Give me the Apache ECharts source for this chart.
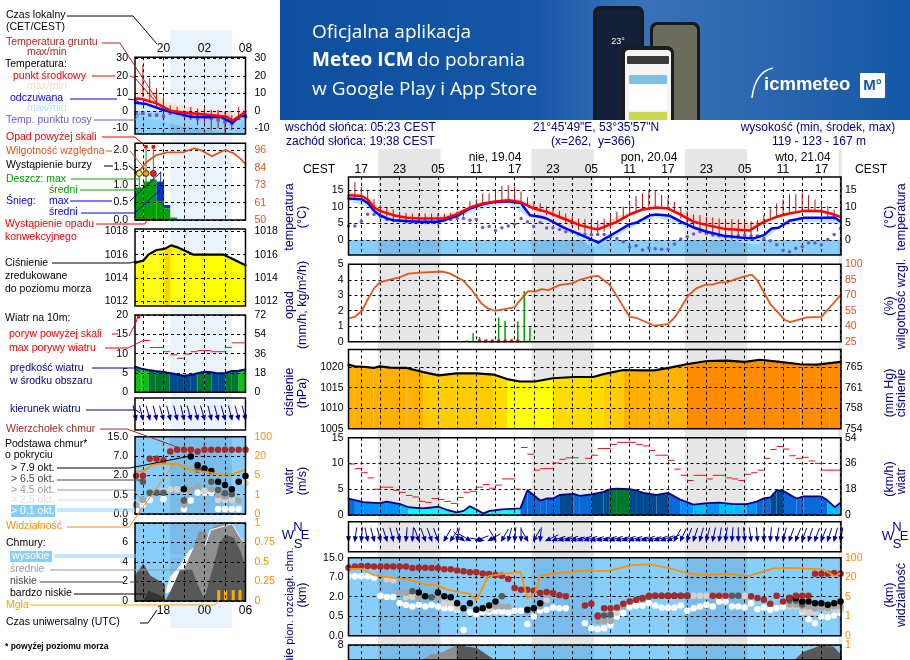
<!DOCTYPE html>
<html>
<head>
<meta charset="utf-8">
<title>meteogram</title>
<script src="https://cdn.jsdelivr.net/npm/echarts@6/dist/echarts.min.js"></script>
<style>
html, body { margin: 0; padding: 0; background: #fff; overflow: hidden; }
#chartMain { width: 910px; height: 660px; }
</style>
</head>
<body>
<div id="chartMain"></div>
<script>
// ---- main meteogram: x is hours since 15:00 local on the first day ----
var mainHours = [];
for (var n = 0; n < 78; n++) { mainHours.push(n); }
var nightStart = [4.63, 28.65, 52.65, 76.7];
var nightEnd = [14.4, 38.4, 62.4, 77.3];
var mainVerticals = [2, 5, 8, 11, 14, 17, 20, 23, 26, 29, 32, 35, 38, 41, 44, 47, 50, 53, 56, 59, 62, 65, 68, 71, 74, 77];
var localTicks = [2, 8, 14, 20, 26, 32, 38, 44, 50, 56, 62, 68, 74];
var localLabels = ['17', '23', '05', '11', '17', '23', '05', '11', '17', '23', '05', '11', '17'];

var tempMid = [[0,13.5],[2.1,13.3],[3.1,12],[4,9.8],[4.9,8.8],[7,7.5],[9.1,6.7],[11,6.5],[14,6.5],[15,6.5],[17,7.8],[19,9.8],[21,11],[23,11.6],[25,12],[26.8,11.5],[27.6,10.8],[29,9.5],[31,8.5],[33.6,6.5],[36.2,4.5],[38.6,3.3],[39.1,3.3],[42,5.5],[44,7.7],[46,9.2],[48.2,9.8],[50,9.5],[52.1,7.5],[54,5.5],[56.1,4.5],[59,3.3],[62.8,2.9],[65,5.5],[67,7],[69,8],[71.3,8.8],[74,8.7],[75.4,8],[77,7]];
var tempFeel = [[0,12.5],[2.1,12.3],[3.1,11],[4,8.8],[4.9,7.5],[6,6.5],[7,6],[11,5.5],[14,5.5],[15,6],[17,7.3],[19,9.5],[21,10.8],[23,11.5],[25,11.7],[27,11.2],[27.6,9.5],[28.4,7.5],[30,7],[31,6.5],[33.6,3.8],[36.2,1.7],[38.6,-0.3],[39.1,-0.8],[39.9,0.2],[42,2.5],[44,4.8],[45,5.2],[47.2,7.5],[48.2,7.7],[50.3,7.3],[52.1,5.5],[54,3.8],[56.1,2.5],[58.7,1.3],[61.3,0.8],[63.4,0.5],[65,1.5],[66.2,3.5],[67.3,3.7],[69,5.8],[71.3,6.7],[74.3,6.7],[76.1,6.8],[77,5.5]];
var tempMidTop = [[0,14.8],[3,13],[5,9.5],[8,7.8],[14,7.2],[20,10.5],[25,12.7],[28,11.5],[32,9],[38,4],[44,8.5],[48,10.6],[52,8.5],[56,6.8],[62,5],[65,6.3],[70,9],[74,9.4],[77,7.5]];
var tempFeelLow = [[0,11.7],[3,10],[5,6.5],[8,5],[14,4.8],[20,8.8],[25,11.2],[28,7],[32,5.5],[38,-2],[40,-1],[44,3.5],[48,7],[52,4.5],[58,0.5],[64,-1.5],[67,3],[70,5.5],[77,5]];
var dewPoint = [4.2,4.2,5.7,7.8,7.7,7,6.2,6,5.8,5.5,5.5,5.5,5.5,5.5,5.5,6,6.2,6.5,6.5,6,6.2,3.8,4.1,2.9,3.7,4.2,4.8,6.5,5.5,4.1,5.3,3.6,3.7,3.2,2.5,2.5,1.8,1.8,1.6,1.7,1.7,1,0.5,-0.5,-2.2,-1.7,-3,-2.3,-2.6,-2.8,-2.8,-1.2,0.3,1,1.8,2.5,2,1.5,1.3,1.1,1.1,1.4,1.5,1.3,1.3,0.3,-0.2,-1.4,-3.1,-3.5,-2.5,-2,-0.9,-0.9,-1.5,0.2,1.7,3.5];
var groundMax = [null,17.4,16.1,14.8,12.4,10.5,9.8,9.2,8.5,8.2,8,8,8,8,8,8,8.2,8.7,9.2,11.7,12.3,14,14,15.1,16.3,16.5,16.1,14.6,12.9,11.5,11,10.2,9.8,8.8,8,7.2,6.5,6.3,6,6,6.5,7.5,8.5,10,11.5,13.3,14.1,14.8,14.8,13.6,12.6,11.5,9.8,8.8,7.7,7.5,7,6.8,6.5,6.5,6.3,6.3,6,5.7,6,7.5,9.5,11,12.2,13.8,13.8,14.3,13.6,12.2,11.5,10.2,9.2,8.5];
var groundMin = [null,12.6,12,10.8,8.8,7.5,7,6.3,6,5.5,5.2,5.2,4.8,5,4.5,5.5,6,6.5,7,9,9.7,11,11,11.5,11.5,11.8,11.8,11,10.2,9.5,8.5,7.5,7,6.7,5,4,3,2.5,2,2.2,2.5,3.5,5,6.5,7.5,8.5,9.5,10,10,9.8,9.5,8,6.5,5,4,3.5,2.5,2,1.5,1,0.2,1,1.5,1,2.5,4.2,6,7,8,8.5,8.5,9,9,8.8,8,7,6,5.5];

var humidity = [[0,47.6],[1,49],[2.1,55],[3.1,67],[4,76.7],[4.9,82.5],[6,84.5],[7.8,87],[9.4,91],[11.2,92],[14.8,93],[15.9,91],[18,84],[19.3,75],[20.8,62],[21.9,57],[22.9,55],[24,56],[26,58.6],[27.1,67],[28.1,74],[29.2,73.5],[30.2,76],[31.3,75],[33.1,80],[35,81.5],[36.2,85],[38,88],[39.1,88.7],[40.9,80],[42.2,67],[44,49],[45.1,48],[47.9,40.5],[50,42],[51.1,49],[53.2,70],[54.5,77],[55.8,80],[57.1,80.6],[58.1,82.5],[59.2,82.5],[61.3,87],[63.1,90],[63.9,85],[66,61.5],[68.3,46],[69.1,44],[71.7,48.6],[74,49],[77,70]];
var rainSpikes = [[18.5,0.1],[19.5,0.54],[20.5,0.3],[23.5,1.57],[24.5,1.33],[26.5,1.3],[27.5,3.27],[28.4,0.93]];
var convective = [20.5,21.5,22.5,23.5,24.5,25.5,26.5];

var pressure = [[0,1020.6],[1,1020.2],[2.3,1020.1],[3.9,1019.8],[4.9,1020.2],[6.5,1019.9],[9.1,1019.8],[11.7,1018.8],[14.1,1018],[16.9,1018.5],[20.1,1018.5],[22.7,1018.2],[24.8,1017.1],[26.8,1016.5],[29.2,1016.5],[32,1017.3],[35.2,1017.6],[38.3,1017.6],[39.9,1018.3],[43,1019.3],[45.6,1019.2],[47.9,1019.2],[50.3,1019.9],[52.9,1020.7],[56.1,1021.5],[59.2,1021.6],[62,1021.3],[64.4,1021.8],[67.5,1021.3],[70.7,1020.7],[73.3,1020.6],[75.3,1021],[77,1021.3]];

var windMean = [[0,3.2],[1,2.9],[2.3,2.5],[4.9,2.3],[6,2.6],[8.1,2.1],[9.4,1.5],[11.7,1.3],[14.1,1.6],[15.4,1],[16.9,0.5],[18,0.8],[19,1.7],[20.1,1],[21.1,0.3],[22.1,0.8],[24,1.1],[26.9,1.3],[28,4.8],[30,2.8],[31,3.2],[32,3.2],[33.1,3.9],[35.2,4.1],[36.2,3.7],[38,4],[39.9,4.5],[40.9,5],[42,5.1],[44,5],[45,4.8],[46.1,4.3],[48.2,3.9],[50,4.3],[51.9,3],[54,2],[56.1,2.3],[58.1,2.4],[60.2,2.1],[62.3,2.1],[63.9,2.6],[64.9,3.2],[66,3.4],[67,4.8],[68,4.7],[70.1,3.2],[71.2,3.6],[74,3.6],[74.9,2.9],[76.1,1.5],[77,2.4]];
var windGust = [9.9,9,8.2,7.2,5,5.4,5.4,4.8,4.4,3.8,3.5,2.65,2.45,3.2,3,2.65,2.25,3.4,4.4,4.6,5.4,5.9,5.2,5.8,7,7,5,13.1,11.8,8.7,9,9,10.1,10.8,11.1,11.1,10,11,11.6,12.9,12.9,13.7,14.1,14.1,14.1,13.7,13.4,12.5,11.6,11.6,10.6,8.9,7.7,6.7,7.7,7.7,7,7.7,7.7,7.2,7,6.7,7.9,8.2,8.7,11,12.7,13.3,12.8,11.5,11,11.2,10.5,10,8.7,8.7,8.7];
var windDirTail = [0,8,5,-12,-15,-15,-18,-15,-15,5,5,-20,-20,-20,-20,30,35,10,-50,-60,70,-80,60,-30,30,15,5,0,-30,30,5,65,72,74,72,75,73,72,74,75,73,72,74,72,73,75,72,74,72,70,65,30,25,20,18,15,15,12,10,8,5,0,-5,-8,-5,0,5,10,15,20,22,20,18,20,22,18,15,10];

// cloud base panel: values are positions on its five-step tick scale (0 = 0 km ... 4 = 15 km)
var baseTickPos = [0, 1, 2, 3, 4];
var baseLabels = ['0.0', '0.5', '2.0', '7.0', '15.0'];
var visLabels = ['0', '1', '5', '20', '100'];
var cloudTop = [3.48,3.55,3.57,3.57,3.55,3.55,3.55,3.55,3.55,3.55,3.47,3.48,3.48,3.47,3.47,3.41,3.41,3.34,3.31,3.26,3.26,3.19,3.17,3.12,3.07,2.91,2.45,2.36,2.36,2.31,2.19,2.24,2.19,2.07,2.02,null,null,1.55,1.64,1.03,1.41,1.41,1.45,1.64,1.76,1.84,1.93,2.05,2.05,2.05,2.05,2.05,2.05,2.05,null,null,null,2.05,2.05,2.05,null,null,null,2.02,1.93,1.84,1.64,2.05,1.76,1.93,2.05,2.05,2.05,3.18,3.18,3.18,3.22,3.18];
var cloudWhite = [3.05,3.05,3.05,3.05,2.97,2.05,1.98,1.98,1.67,1.57,1.5,1.59,1.5,1.57,1.5,1.41,1.41,1.33,0.29,1.2,1.1,1.21,1.21,1.24,1.24,1.19,1.28,1.28,0.6,0.98,1.29,1.33,1.45,1.41,1.41,null,null,0.64,0.38,0.33,0.38,0.55,0.98,1.16,1.47,1.53,1.53,1.67,1.55,1.43,1.43,1.43,1.55,1.28,1.41,1.5,1.59,1.5,1.76,1.76,1.5,1.5,1.45,1.67,1.36,1.45,1.33,1.41,1.47,1.67,1.76,1.24,0.84,0.64,0.98,0.95,1.03,1.16];
var cloudLight = [[6,2.9],[7,2.85],[9,1.97],[10,2],[15,1.67],[16,1.67],[17,1.41],[22,1.33],[31,1.84],[42,1.16],[45,1.84],[54,2.05],[55,2.05],[56,2.05],[59,2.05],[62,2.05],[69,1.5],[70,1.5],[71,1.3],[72,1.2],[73,1.2],[75,1.3],[76,1.4],[77,1.3]];
var cloudGrey = [[8,2.2],[9,2.2],[11,1.93],[14,1.93],[23,1.5],[24,1.5],[25,1.5],[28,1.2],[30,1.5],[31,2.1],[39,0.75],[40,0.75],[41,0.75],[43,1.5],[44,1.76],[69,1.6],[70,1.6],[71,1.5],[72,1.5],[73,1.4],[74,1.45],[75,1.4],[76,1.5],[77,1.5]];
var cloudDark = [[10,2.28],[13,1.97],[24,2.02],[39,0.98],[40,1.03],[41,1.07],[46,1.9],[47,2],[48,2.05],[49,2.05],[52,2.05],[60,2.05],[61,2.05],[69,1.8],[70,1.8],[71,1.6]];
var cloudBlack = [[11,2.22],[12,2.02],[14,2.22],[15,2.02],[16,1.97],[17,1.67],[18,1.41],[19,1.67],[20,1.33],[21,1.41],[22,1.55],[23,1.76],[28,1.33],[29,1.41],[30,1.67],[50,2.05],[51,2.05],[53,2.05],[69,1.93],[70,1.93],[71,1.76],[72,1.76],[73,1.67],[74,1.67],[75,1.59],[76,1.67],[77,1.76]];
var visibility = [[0,3.43],[2.1,3.43],[4.1,3.09],[7,2.97],[9.1,2.91],[12.2,2.62],[14.1,2.57],[15.4,2.36],[17.4,2.24],[19,2.14],[20,1.81],[21.9,3.05],[23.7,3.14],[26.9,3.28],[28,1.93],[29.2,2.19],[30,3.05],[32,3.19],[35.2,3.28],[37.3,3.34],[39.3,3.31],[40.9,3.34],[44.3,3.62],[47.2,3.66],[50,3.48],[53.2,3.19],[55.5,3.1],[59.2,3.17],[62.6,3.05],[66.5,3.45],[69.1,3.48],[74.3,3.4],[76.1,3.05],[77,3.22]];
var mainCloudMid = [[11.7,0],[11.7,0.81],[12.8,0.87],[14.8,0.91],[16.9,1],[17,0]];
var mainCloudLow = [[16.9,0],[16.9,1],[20.1,0.96],[22.7,0.81],[22.7,0]];
var mainCloudLowEnd = [[69.9,0],[69.9,0.81],[71.2,0.91],[73.8,0.99],[75.9,0.98],[77.1,0.87],[77.1,0]];

// ---- legend meteogram on the left: x is local hours, 24 = midnight ----
var legendHours = [16,17,18,19,20,21,22,23,24,25,26,27,28,29,30,31,32];
var legendVerticals = [17, 20, 23, 26, 29, 32];
var legendTopLabels = ['20', '02', '08'];
var legendBottomLabels = ['18', '00', '06'];
var legendLabelTicks = [20, 26, 32];
var legendTempMid = [[15.85,7.2],[16.83,6.9],[19,4.4],[21,0.2],[22.9,-0.8],[25.4,-1.7],[27.8,-2.7],[29.3,-3.2],[30.1,-5.5],[31,-3.2],[32,-0.4]];
var legendTempFeel = [[15.85,4.8],[17.56,4],[20,0.6],[22,-1.3],[23.9,-3.2],[26.3,-3.6],[28.3,-3.2],[30.1,-6.7],[31.2,-2.9],[32,-2.7]];
var legendTempTop = [[15.85,13.5],[17.6,12],[19,9.1],[21,4.4],[23.4,2.5],[26.3,1.5],[29.8,-0.4],[32,1.5]];
var legendFeelLow = [[15.85,-2],[17,-3],[20,-6],[23,-9],[27,-11],[30,-12.5],[32,-4]];
var legendDew = [-1.3,-1.3,-2.3,-2.3,-2.9,-1,-1.3,-2.3,-3.2,-4.2,-3.2,-4.2,-5.1,-6.2,-7.1,-4.2,-3.2];
var legendGroundHours = [17,18,19,20,21,22,23,24,25,26,27,28,29,30,31];
var legendGroundMax = [26.3,18.7,13,8.2,3.4,2.5,0.6,2.5,1.5,1.5,0.6,0.6,-0.4,-2.3,2.5];
var legendGroundMin = [8.2,4.4,2.5,1.5,-2.3,-2.3,-3.2,-5.1,-8,-7,-11,-10,-12.8,-11,-5.1];
var legendHumidity = [[15.85,80.7],[16.83,84],[17.56,88.3],[19,92.7],[20.5,94.5],[22.9,94.5],[24.4,97],[25.4,96],[27.1,92],[29,96],[30.2,94],[31.2,90.5],[32,86.8]];
var legendRainEdges = [15.85,17.07,18.05,19,20.1,21,22];
var legendRainMean = [0.93,1.1,1.16,0.52,0.33,0.07];
var legendSnowTop = [0.93,1.1,1.16,1.1,0.43,0.07];
var legendRainMaxHours = [16.48,17.46,18.53];
var legendRainMaxTop = [1.33,2.05,2.05];
var legendSnowMax = [[19.6,1.1,1.38]];
var legendOverScale = [[17.46,2.09],[18.53,2.09]];
var legendGustOver = [[16.4,19.5]];
var legendThunder = [[16.48,1.33],[17.46,1.33],[18.53,1.33]];
var legendConvective = [16.5,17.5,18.5,19.5];
var legendPressure = [[15.85,1015.3],[17.07,1015.5],[17.8,1016],[19,1016.4],[20.2,1016.5],[21.1,1016.8],[22.2,1016.6],[24.4,1016],[28.8,1016],[30.2,1015.6],[32,1015.1]];
var legendWind = [[15.85,6.6],[16.8,6.1],[17.8,5.75],[18.8,5.5],[19.8,5.35],[20.9,5],[22,4.6],[23,4.3],[24,4.5],[24.9,4.9],[25,5.2],[26,5.3],[27,5.2],[27.1,4.9],[28,4.9],[29,4.95],[29.1,5.3],[30,5.5],[31,5.6],[31.2,5.85],[32,5.9]];
var legendGustHours = [17,18,19,20,21,22,23,24,25,26,27,28,29,30,31];
var legendGust = [13.4,11.6,11.6,10.5,9.7,8.8,9.9,10.5,10.8,10.8,10.5,10.5,11.6,12.8,12.8];
var legendDirTail = [-12,-14,-15,-14,-16,-15,-14,-13,-15,-14,-16,-14,-15,-16,-14,-15,-14];
var legendTop = [[16,1.98],[17,1.98],[18,2.86],[19,2.86],[20,2.78],[21,3.24],[22,3.32],[23,3.32],[24,3.32],[25,3.24],[26,3.32],[27,3.32],[28,3.32],[29,3.32],[30,3.32],[31,3.32],[32,3.32]];
var legendBlack = [[24,2.98],[25,2.52],[26,2.35],[27,2.23],[23,1.28],[28,1.67],[29,1.5],[30,1.28],[31,1.67],[32,1.96]];
var legendDark = [[17,1.67],[18,1.1],[19,1.1],[20,1.1],[23,0.7],[27,1.67],[25,2.3],[28,1.24],[29,1.07],[30,1.02]];
var legendGrey = [[16,0.48],[17,0.73],[23,0.48],[24,1.24],[25,1.46],[27,1.28],[28,1],[29,0.9],[31,0.7]];
var legendLight = [[20,1.2],[21,1.28],[22,1.28],[23,1.2],[26,1.2],[28,0.73],[29,0.73],[30,0.73],[32,1.6]];
var legendWhite = [[16,0.2],[17,0.48],[18,0.73],[20,0.78],[23,0.26],[24,0.7],[25,1.1],[26,1.1],[27,1.1],[28,0.26],[29,0.26],[30,0.26],[31,0.26]];
var legendVis = [[15.85,2.21],[17.07,2.21],[18.53,2.57],[20,2.6],[22,2.6],[23.4,2.35],[24.9,2.23],[26.3,2.18],[28.3,2.04],[30.2,2.06],[32,2.3]];
var cloudHigh = [[20.25,0.1],[21,0.31],[22.46,0.46],[23.7,0.64],[24.66,0.7],[24.4,0.4],[22.46,0.4],[21,0.12]];
var cloudMedium = [[23.44,0],[22.95,0.4],[24.4,0.68],[25.15,0.89],[26.13,0.89],[26.62,0.81],[27.35,0.96],[30.04,1],[32,0.72],[32,0]];
var cloudLowHill1 = [[15.85,0],[15.85,0.33],[17.07,0.48],[18.05,0.33],[20.25,0.21],[20.25,0]];
var cloudLowHill2 = [[20.25,0],[21,0.12],[22.46,0.4],[24.17,0.4],[24.9,0.23],[26.13,0]];
var cloudLowHill3 = [[25.88,0],[27.35,0.46],[28.09,0.72],[29.07,0.85],[30.29,0.81],[31.27,0.64],[32,0.44],[32,0]];
var cloudVeryLow = [[17.07,0],[17.8,0.13],[19.3,0.08],[20.25,0.03],[20.25,0]];
var cloudEdge = [[26.13,0.72],[26.86,0.91],[30.04,0.99],[31.27,0.81],[32,0.72]];
var fogHours = [28.09,29.07,30.2,31.2];
var fogTop = 0.14;

// ---- helpers ----
var FONT = '"Liberation Sans", Arial, sans-serif';
var option = { animation: false, grid: [], xAxis: [], yAxis: [], series: [], graphic: [] };

function dashed() {
    return { show: true, lineStyle: { color: '#000', width: 1, type: [3, 3] } };
}
function pairs(xs, ys) {
    var out = [];
    for (var i = 0; i < ys.length; i++) {
        if (ys[i] !== null) { out.push([xs[i], ys[i]]); }
    }
    return out;
}
// one framed panel with a shared time axis, a left value axis and optional right value axis
function panel(c) {
    var idx = option.grid.length;
    option.grid.push({
        show: !c.noFrame, left: c.left, top: c.top, width: c.width, height: c.height,
        borderColor: '#000', borderWidth: 1.5, backgroundColor: 'transparent', z: 8
    });
    var xLabel = c.timeTicks ? {
        show: true, customValues: c.timeTicks, margin: c.timeMargin, fontSize: 12, color: '#000', fontFamily: FONT,
        formatter: function(v) { return c.timeLabels[c.timeTicks.indexOf(v)]; }
    } : { show: false };
    option.xAxis.push({
        type: 'value', gridIndex: idx, min: c.xMin, max: c.xMax, z: 4, position: c.timePos || 'bottom',
        axisLine: { show: false }, axisTick: { show: false, customValues: c.verticals || [] },
        axisLabel: xLabel, splitLine: c.verticals ? dashed() : { show: false }
    });
    var yi = option.yAxis.length;
    function yLabelCfg(ticks, labels, color, margin) {
        if (!ticks) { return { show: false }; }
        return {
            show: true, customValues: ticks, fontSize: 10.5, color: color || '#000', margin: margin, fontFamily: FONT,
            formatter: function(v) { return labels ? labels[ticks.indexOf(v)] : String(Math.round(v)); }
        };
    }
    option.yAxis.push({
        type: 'value', gridIndex: idx, min: c.yMin, max: c.yMax, position: 'left', z: 4,
        axisLine: { show: false }, axisTick: { show: false, customValues: c.yTicks || [] },
        axisLabel: yLabelCfg(c.yTicks, c.yLabels, '#000', c.lm),
        splitLine: c.yTicks ? dashed() : { show: false }
    });
    option.yAxis.push({
        type: 'value', gridIndex: idx, min: c.y2Min, max: c.y2Max, position: 'right', z: 4,
        axisLine: { show: false }, axisTick: { show: false, customValues: c.y2Ticks || [] },
        axisLabel: yLabelCfg(c.y2Ticks, c.y2Labels, c.y2Color, c.rm),
        splitLine: { show: false }
    });
    return { x: idx, y: yi, y2: yi + 1, xMin: c.xMin, xMax: c.xMax, yMin: c.yMin, yMax: c.yMax };
}
function base(p, useY2, z) {
    return { xAxisIndex: p.x, yAxisIndex: useY2 ? p.y2 : p.y, z: z, silent: true };
}
function addLine(p, data, color, width, z, useY2) {
    var s = base(p, useY2, z);
    s.type = 'line'; s.data = data; s.showSymbol = false; s.clip = true;
    s.lineStyle = { color: color, width: width, cap: 'round', join: 'round' };
    option.series.push(s);
}
function addDots(p, data, color, size, z, symbol, clip) {
    var s = base(p, false, z);
    s.type = 'scatter'; s.data = data; s.symbol = symbol || 'circle'; s.symbolSize = size;
    s.itemStyle = { color: color, opacity: 1 }; s.clip = clip !== false;
    option.series.push(s);
}
function addPoly(p, pts, fill, z, useY2) {
    var s = base(p, useY2, z);
    s.type = 'custom'; s.clip = true; s.data = [pts[0]];
    s.renderItem = function(params, api) {
        return { type: 'polygon', shape: { points: pts.map(function(v) { return api.coord(v); }) }, style: { fill: fill } };
    };
    option.series.push(s);
}
function addBand(p, pts, lower, fill, z) {
    addPoly(p, pts.concat(lower.slice().reverse()), fill, z);
}
function addPolyline(p, pts, color, width, z) { addLine(p, pts, color, width, z); }
// thin vertical sticks, rows are [x, low, high]
function addSticks(p, rows, color, width, z, useY2) {
    var s = base(p, useY2, z);
    s.type = 'custom'; s.clip = true; s.data = rows;
    s.renderItem = function(params, api) {
        var a = api.coord([api.value(0), api.value(1)]);
        var b = api.coord([api.value(0), api.value(2)]);
        return { type: 'rect', shape: { x: a[0] - width / 2, y: b[1], width: width, height: a[1] - b[1] }, style: { fill: color } };
    };
    option.series.push(s);
}
// hourly step dashes for the gusts
function addDashes(p, hours, values, z) {
    var s = base(p, false, z);
    s.type = 'custom'; s.clip = true; s.data = pairs(hours, values);
    s.renderItem = function(params, api) {
        var a = api.coord([api.value(0), api.value(1)]);
        var b = api.coord([api.value(0) + 1, api.value(1)]);
        return { type: 'line', shape: { x1: a[0], y1: a[1], x2: b[0], y2: b[1] }, style: { stroke: '#f01010', lineWidth: 1 } };
    };
    option.series.push(s);
}
function addArrows(p, hours, tail, anchor, len, z) {
    var s = base(p, false, z);
    s.type = 'custom'; s.clip = false;
    s.data = hours.map(function(h, i) { return [h, anchor, tail[i]]; });
    s.renderItem = function(params, api) {
        var head = api.coord([api.value(0), api.value(1)]);
        var a = api.value(2) * Math.PI / 180;
        var dx = Math.sin(a), dy = -Math.cos(a);
        var px = -dy, py = dx;
        return {
            type: 'group', children: [
                { type: 'line', shape: { x1: head[0], y1: head[1], x2: head[0] + dx * len, y2: head[1] + dy * len }, style: { stroke: '#0000a0', lineWidth: 1 } },
                { type: 'polygon', shape: { points: [
                    [head[0] - dx * 2, head[1] - dy * 2],
                    [head[0] + dx * 4 + px * 2.6, head[1] + dy * 4 + py * 2.6],
                    [head[0] + dx * 4 - px * 2.6, head[1] + dy * 4 - py * 2.6]
                ] }, style: { fill: '#0000a0' } }
            ]
        };
    };
    option.series.push(s);
}
function rectPts(x0, x1, lo, hi) { return [[x0, lo], [x1, lo], [x1, hi], [x0, hi]]; }
function pressureColor(v) {
    if (v >= 1020.6) { return '#ff8c00'; }
    if (v >= 1019) { return '#ffb000'; }
    if (v >= 1018) { return '#ffcc00'; }
    if (v >= 1017) { return '#ffdc00'; }
    return '#ffff00';
}
function windColor(v) {
    if (v >= 5.7) { return '#10c010'; }
    if (v >= 5) { return '#007a2a'; }
    if (v >= 4) { return '#004a8f'; }
    if (v >= 2.75) { return '#0a68d8'; }
    if (v >= 2.3) { return '#0090ff'; }
    if (v >= 1.5) { return '#00bfff'; }
    if (v >= 1) { return '#00ffff'; }
    return '#40e0d0';
}
// column fill under a profile, each knot span coloured by its mean value
function addColumns(p, knots, floor, colorFn, z) {
    for (var i = 0; i < knots.length - 1; i++) {
        var a = knots[i], b = knots[i + 1];
        addPoly(p, [[a[0], floor], [a[0], a[1]], [b[0], b[1]], [b[0], floor]], colorFn((a[1] + b[1]) / 2), z);
    }
}

// ---- background stripes behind the two meteograms ----
var stripeGrid = panel({ left: 348.5, top: 149, width: 492.5, height: 511, xMin: 0, xMax: 77.07, yMin: 0, yMax: 1, noFrame: true });
nightStart.forEach(function(h, i) { addPoly(stripeGrid, rectPts(h, nightEnd[i], 0, 1), '#e6e6e6', 0); });
var legendStripe = panel({ left: 135, top: 30, width: 110.5, height: 598, xMin: 15.85, xMax: 32, yMin: 0, yMax: 1, noFrame: true });
addPoly(legendStripe, rectPts(21, 30, 0, 1), '#eaf2fc', 0);

// ---- main panels ----
var mainBox = { left: 348.5, width: 492.5, xMin: 0, xMax: 77.07, verticals: mainVerticals, lm: 5, rm: 4, timeMargin: 1 };
function mainPanel(extra) { return panel(Object.assign({}, mainBox, extra)); }

function nightOverlay(p, lo, hi, z) {
    nightStart.forEach(function(h, i) { addPoly(p, rectPts(h, nightEnd[i], lo, hi), 'rgba(0,30,90,0.1)', z); });
}

var pTemp = mainPanel({ top: 177, height: 78, yMin: -4.5, yMax: 19, yTicks: [0, 5, 10, 15], y2Min: -4.5, y2Max: 19, y2Ticks: [0, 5, 10, 15], timeTicks: localTicks, timeLabels: localLabels, timePos: 'top' });
addPoly(pTemp, rectPts(0, 77.07, -4.5, 0), '#87cefa', 2);
nightOverlay(pTemp, -4.5, 0, 3);
addBand(pTemp, tempMidTop, tempMid, '#ffd6d0', 2);
addBand(pTemp, tempFeel, tempFeelLow, 'rgba(175,225,255,0.8)', 3);
addSticks(pTemp, mainHours.map(function(h, i) { return groundMax[i] === null ? [h, 0, 0] : [h, groundMin[i], groundMax[i]]; }), '#a01818', 1, 5);
addDots(pTemp, pairs(mainHours, dewPoint), '#6a5acd', 3.5, 5);
addLine(pTemp, tempFeel, '#0000ff', 2.5, 6);
addLine(pTemp, tempMid, '#ff0000', 2.5, 7);

var pRain = mainPanel({ top: 264.3, height: 77.4, yMin: 0, yMax: 5, yTicks: [0, 1, 2, 3, 4, 5], y2Min: 25, y2Max: 100, y2Ticks: [25, 40, 55, 70, 85, 100], y2Color: '#e0501a' });
addSticks(pRain, rainSpikes.map(function(r) { return [r[0], 0, r[1]]; }), '#00a000', 1.5, 5);
addSticks(pRain, [[28, 0, 0.06]], '#00a000', 7, 5);
addDots(pRain, convective.map(function(h) { return [h, 0.05]; }), '#e01010', 3, 6, 'rect', false);
addLine(pRain, humidity, '#e0561e', 1.8, 7, true);

var pPres = mainPanel({ top: 349.5, height: 79.2, yMin: 1005, yMax: 1024.3, yTicks: [1005, 1010, 1015, 1020], y2Min: 753.8, y2Max: 768.3, y2Ticks: [753.8, 757.5, 761.3, 765] });
addColumns(pPres, pressure, 1005, pressureColor, 2);
addLine(pPres, pressure, '#000', 2.2, 6);

var pWind = mainPanel({ top: 437.7, height: 77.3, yMin: 0, yMax: 15, yTicks: [0, 5, 10, 15], y2Min: 0, y2Max: 54, y2Ticks: [0, 18, 36, 54] });
addColumns(pWind, windMean, 0, windColor, 2);
addDashes(pWind, mainHours.slice(0, windGust.length), windGust, 5);
addLine(pWind, windMean, '#00008b', 1.8, 6);

var pDir = mainPanel({ top: 521.7, height: 30, yMin: 0, yMax: 1 });
addArrows(pDir, mainHours, windDirTail, 0.38, 13, 6);

var pBase = mainPanel({ top: 557.7, height: 78, yMin: 0, yMax: 4, yTicks: baseTickPos, yLabels: baseLabels, y2Min: 0, y2Max: 4, y2Ticks: baseTickPos, y2Labels: visLabels, y2Color: '#ff8c00' });
addPoly(pBase, rectPts(0, 77.07, 0, 4), '#87cefa', 2);
nightOverlay(pBase, 0, 4, 3);
addDots(pBase, pairs(mainHours, cloudWhite), '#fff', 6.5, 5);
addDots(pBase, cloudLight, '#d8d2ca', 6.5, 5);
addDots(pBase, cloudGrey, '#a6a6a6', 6.5, 5);
addDots(pBase, cloudDark, '#5a5a5a', 6.5, 5);
addDots(pBase, cloudBlack, '#000', 6.5, 5);
addDots(pBase, pairs(mainHours, cloudTop), '#a52a2a', 6.5, 5);
addLine(pBase, visibility, '#ff9000', 1.8, 6);

// the page ends at 660, so only the top slice of this 78 px tall panel is on screen
var cloudSliceMin = 1 - 15.5 / 78;
var pCloud = mainPanel({ top: 645, height: 15.5, yMin: cloudSliceMin, yMax: 1, yTicks: [1], yLabels: ['8'], y2Min: cloudSliceMin, y2Max: 1, y2Ticks: [1], y2Labels: ['1'], y2Color: '#ff8c00' });
addPoly(pCloud, rectPts(0, 77.07, cloudSliceMin, 1), '#87cefa', 2);
nightOverlay(pCloud, cloudSliceMin, 1, 3);
addPoly(pCloud, mainCloudMid, '#8f8f8f', 3);
addPoly(pCloud, mainCloudLow, '#585858', 3);
addPoly(pCloud, mainCloudLowEnd, '#585858', 3);

// ---- legend panels ----
var legendBox = { left: 135, width: 110.5, xMin: 15.85, xMax: 32, verticals: legendVerticals, lm: 7, rm: 9, timeMargin: 3 };
function legendPanel(extra) { return panel(Object.assign({}, legendBox, extra)); }

var lTemp = legendPanel({ top: 57.3, height: 76.7, yMin: -13.1, yMax: 30.7, yTicks: [-10, 0, 10, 20, 30], y2Min: -13.1, y2Max: 30.7, y2Ticks: [-10, 0, 10, 20, 30], timeTicks: legendLabelTicks, timeLabels: legendTopLabels, timePos: 'top' });
addPoly(lTemp, rectPts(15.85, 32, -13.1, 0), '#87cefa', 2);
addPoly(lTemp, rectPts(21, 30, -13.1, 0), 'rgba(0,30,90,0.1)', 3);
addBand(lTemp, legendTempTop, legendTempMid, '#ffe4d8', 2);
addBand(lTemp, legendTempFeel, legendFeelLow, 'rgba(175,225,255,0.55)', 3);
addSticks(lTemp, legendGroundHours.map(function(h, i) { return [h, legendGroundMin[i], legendGroundMax[i]]; }), '#a01818', 1, 5);
addDots(lTemp, pairs(legendHours, legendDew), '#6a5acd', 3.5, 5, 'rect');
addLine(lTemp, legendTempFeel, '#0000ff', 2.5, 6);
addLine(lTemp, legendTempMid, '#ff0000', 2.5, 7);

var lRain = legendPanel({ top: 143.3, height: 76.7, yMin: 0, yMax: 2.19, yTicks: [0, 0.5, 1, 1.5, 2], yLabels: ['0.0', '0.5', '1.0', '1.5', '2.0'], y2Min: 50, y2Max: 100.4, y2Ticks: [50, 61, 73, 84, 96], y2Color: '#e0501a' });
legendRainMean.forEach(function(v, i) {
    addPoly(lRain, rectPts(legendRainEdges[i], legendRainEdges[i + 1], v, legendSnowTop[i]), '#1030c0', 3);
    addPoly(lRain, rectPts(legendRainEdges[i], legendRainEdges[i + 1], 0, v), '#00a000', 3);
});
addSticks(lRain, legendRainMaxHours.map(function(h, i) { return [h, 0.9, legendRainMaxTop[i]]; }), '#00a000', 1, 5);
addSticks(lRain, legendSnowMax, '#1030c0', 1, 5);
addDots(lRain, legendOverScale, '#f00000', 3.5, 6, 'rect', false);
addDots(lRain, legendConvective.map(function(h) { return [h, 0.02]; }), '#e01010', 2.5, 6, 'rect', false);
addLine(lRain, legendHumidity, '#e0561e', 1.8, 7, true);
['#ffe040', '#ff9900', '#ff2000'].forEach(function(col, i) {
    var s = base(lRain, false, 8);
    s.type = 'scatter'; s.data = [legendThunder[i]]; s.symbolSize = 6;
    s.itemStyle = { color: col, borderColor: '#000', borderWidth: 0.7, opacity: 1 };
    option.series.push(s);
});

var lPres = legendPanel({ top: 229, height: 77, yMin: 1011.6, yMax: 1018.2, yTicks: [1012, 1014, 1016, 1018], y2Min: 1011.6, y2Max: 1018.2, y2Ticks: [1012, 1014, 1016, 1018] });
addColumns(lPres, legendPressure, 1011.6, function() { return '#ffff00'; }, 2);
addPoly(lPres, [[20.2, 1011.6], [20.2, 1016.5], [21, 1016.75], [21, 1011.6]], '#ffd200', 3);
addLine(lPres, legendPressure, '#000', 2.2, 6);

var lWind = legendPanel({ top: 315, height: 77.3, yMin: 0, yMax: 20, yTicks: [0, 5, 10, 15, 20], y2Min: 0, y2Max: 72, y2Ticks: [0, 18, 36, 54, 72] });
addColumns(lWind, legendWind, 0, windColor, 2);
addDashes(lWind, legendGustHours, legendGust, 5);
addDots(lWind, legendGustOver, '#f00000', 3, 6, 'rect', false);
addLine(lWind, legendWind, '#00008b', 2, 6);

var lDir = legendPanel({ top: 398, height: 32, yMin: 0, yMax: 1 });
addArrows(lDir, legendHours, legendDirTail, 0.34, 14, 6);

var lBase = legendPanel({ top: 436.7, height: 77.3, yMin: 0, yMax: 4, yTicks: baseTickPos, yLabels: baseLabels, y2Min: 0, y2Max: 4, y2Ticks: baseTickPos, y2Labels: visLabels, y2Color: '#ff8c00' });
addPoly(lBase, rectPts(15.85, 32, 0, 4), '#87cefa', 2);
addPoly(lBase, rectPts(21, 30, 0, 4), 'rgba(0,30,90,0.1)', 3);
addDots(lBase, legendWhite, '#fff', 6.5, 5);
addDots(lBase, legendLight, '#d8d2ca', 6.5, 5);
addDots(lBase, legendGrey, '#a6a6a6', 6.5, 5);
addDots(lBase, legendDark, '#5a5a5a', 6.5, 5);
addDots(lBase, legendBlack, '#000', 6.5, 5);
addDots(lBase, legendTop, '#a52a2a', 6.5, 5);
addLine(lBase, legendVis, '#ff9000', 1.8, 6);

var lCloud = legendPanel({ top: 523, height: 78, yMin: 0, yMax: 1, yTicks: [0, 0.25, 0.5, 0.75, 1], yLabels: ['0', '2', '4', '6', '8'], y2Min: 0, y2Max: 1, y2Ticks: [0, 0.25, 0.5, 0.75, 1], y2Labels: ['0', '0.25', '0.5', '0.75', '1'], y2Color: '#ff8c00', timeTicks: legendLabelTicks, timeLabels: legendBottomLabels, timeMargin: 4 });
addPoly(lCloud, rectPts(15.85, 32, 0, 1), '#87cefa', 2);
addPoly(lCloud, rectPts(21, 30, 0, 1), 'rgba(0,30,90,0.1)', 2);
addPoly(lCloud, cloudHigh, '#fff', 3);
addPoly(lCloud, cloudMedium, '#8f8f8f', 3);
addPoly(lCloud, cloudLowHill1, '#585858', 3);
addPoly(lCloud, cloudLowHill2, '#585858', 3);
addPoly(lCloud, cloudLowHill3, '#585858', 3);
addPoly(lCloud, cloudVeryLow, '#333', 3);
addPolyline(lCloud, cloudEdge, '#fff', 1, 3);
addSticks(lCloud, fogHours.map(function(h) { return [h, 0, fogTop]; }), '#ffaa00', 3, 3);

// ---- page texts ----
var NAVY = '#000080';
var g = option.graphic;
function label(text, x, y, color, size, align, extra) {
    g.push({
        type: 'text', z: 30, silent: true, x: x, y: y,
        style: Object.assign({ text: text, fill: color || '#000', font: (size || 10.5) + 'px ' + FONT, verticalAlign: 'middle', align: align || 'left' }, extra || {})
    });
}
function upText(text, x, y, color, size) {
    g.push({
        type: 'text', z: 30, silent: true, x: x, y: y, rotation: Math.PI / 2,
        style: { text: text, fill: color || NAVY, font: (size || 12.5) + 'px ' + FONT, verticalAlign: 'middle', align: 'center' }
    });
}
function leader(points, color) {
    g.push({ type: 'polyline', z: 25, silent: true, shape: { points: points }, style: { stroke: color, lineWidth: 1, fill: null } });
}

// header of the main chart
label('wschód słońca: 05:23 CEST', 285, 128, NAVY, 12);
label('zachód słońca: 19:38 CEST', 286, 142, NAVY, 12);
label('21°45\'49"E, 53°35\'57"N', 596, 128, NAVY, 12, 'center');
label('(x=262,  y=366)', 593, 142, NAVY, 12, 'center');
label('wysokość (min, środek, max)', 818, 128, NAVY, 12, 'center');
label('119 - 123 - 167 m', 819, 142, NAVY, 12, 'center');
label('nie, 19.04', 495, 158, '#000', 12, 'center');
label('pon, 20.04', 649, 158, '#000', 12, 'center');
label('wto, 21.04', 803, 158, '#000', 12, 'center');
label('CEST', 319, 170, '#000', 12, 'center');
label('CEST', 871, 170, '#000', 12, 'center');

// rotated axis titles
[['temperatura', 217, '(°C)', 217], ['opad', 305, '(mm/h, kg/m²/h)', 305], ['ciśnienie', 392, '(hPa)', 393], ['wiatr', 481, '(m/s)', 481], ['zachmurzenie', 687, '', 0]].forEach(function(r) {
    upText(r[0], 290, r[1]);
    if (r[2]) { upText(r[2], 303, r[3]); }
});
upText('pion. rozciągł. chm.', 290, 596, NAVY, 11.3);
upText('(km)', 303, 595);
[['(°C)', 217, 'temperatura', 217], ['(%)', 306, 'wilgotność wzgl.', 304], ['(mm Hg)', 393, 'ciśnienie', 393], ['(km/h)', 479, 'wiatr', 481], ['(km)', 595, 'widzialność', 595]].forEach(function(r) {
    upText(r[0], 890, r[1]);
    upText(r[2], 902, r[3]);
});
label('N', 298, 527, NAVY, 13, 'center');
label('W', 288, 535, NAVY, 13, 'center');
label('E', 305, 535, NAVY, 13, 'center');
label('S', 298, 544, NAVY, 13, 'center');
label('N', 897, 527, NAVY, 13, 'center');
label('W', 888, 536, NAVY, 13, 'center');
label('E', 904, 536, NAVY, 13, 'center');
label('S', 897, 544, NAVY, 13, 'center');

// legend captions
var BROWN = '#a52a2a', RED = '#f00000', BLUE = '#0000e0', ORANGE = '#ff8c00', RH = '#e0501a', GREEN = '#00a000', DARKBLUE = '#00008b';
var captions = [
    ['Czas lokalny', 6, 15, '#000'], ['(CET/CEST)', 6, 27, '#000'],
    ['Temperatura gruntu', 6, 42, BROWN], ['max/min', 27, 52, BROWN],
    ['Temperatura:', 5, 64, '#000'], ['punkt środkowy', 13, 76, RED], ['max/min', 27, 86, '#ffd8c8'],
    ['odczuwana', 10, 98, BLUE], ['max/min', 27, 108, '#b0e0ff'], ['Temp. punktu rosy', 6, 120, '#6a5acd'],
    ['Opad powyżej skali', 6, 137, RED], ['Wilgotność względna', 6, 151, RH], ['Wystąpienie burzy', 6, 165, '#000'],
    ['Deszcz: max', 6, 179, GREEN], ['średni', 49, 190, GREEN], ['Śnieg:', 6, 201, BLUE], ['max', 49, 201, BLUE], ['średni', 49, 212, BLUE],
    ['Wystąpienie opadu', 5, 224, RED], ['konwekcyjnego', 5, 237, RED],
    ['Ciśnienie', 5, 263, '#000'], ['zredukowane', 5, 276, '#000'], ['do poziomu morza', 5, 289, '#000'],
    ['Wiatr na 10m:', 5, 318, '#000'], ['poryw powyżej skali', 9, 334, RED], ['max porywy wiatru', 9, 348, RED],
    ['prędkość wiatru', 10, 368, DARKBLUE], ['w środku obszaru', 10, 381, DARKBLUE], ['kierunek wiatru', 10, 409, DARKBLUE],
    ['Wierzchołek chmur', 6, 429, BROWN], ['Podstawa chmur*', 5, 444, '#000'], ['o pokryciu', 5, 455, '#000'],
    ['> 7.9 okt.', 11, 468, '#000'], ['> 6.5 okt.', 11, 479, '#444'], ['> 4.5 okt.', 11, 490, '#999'], ['> 2.5 okt.', 11, 500, '#ddd'],
    ['Widzialność', 6, 526, ORANGE], ['Chmury:', 6, 543, '#000'], ['średnie', 10, 569, '#999'], ['niskie', 10, 581, '#444'],
    ['bardzo niskie', 10, 593, '#000'], ['Mgła', 6, 605, '#ffa000'], ['Czas uniwersalny (UTC)', 6, 622, '#000']
];
g.push({ type: 'rect', z: 20, silent: true, shape: { x: 11, y: 505, width: 44, height: 12 }, style: { fill: '#87cefa' } });
g.push({ type: 'rect', z: 20, silent: true, shape: { x: 10, y: 551, width: 42, height: 11 }, style: { fill: '#87cefa' } });
captions.forEach(function(c) { label(c[0], c[1], c[2], c[3]); });
label('> 0.1 okt.', 11, 511, '#fff');
label('wysokie', 12, 556, '#fff');
label('* powyżej poziomu morza', 5, 647, '#000', 9, 'left', { font: 'bold 8.5px ' + FONT });

var leaders = [
    [[[67, 16], [133, 16], [157, 44]], '#000'],
    [[[102, 43], [120, 43], [157, 100]], BROWN],
    [[[92, 76], [115, 76]], RED], [[[130, 76], [135, 78], [157, 103]], RED],
    [[[70, 99], [117, 99]], BLUE], [[[128, 99], [135, 100], [139, 102]], BLUE],
    [[[94, 120], [135, 120], [140, 113]], '#6a5acd'],
    [[[102, 137], [135, 137], [146, 147]], RED],
    [[[106, 151], [112, 151]], RH], [[[130, 151], [146, 170]], RH],
    [[[104, 166], [113, 166]], '#000'], [[[129, 166], [135, 171], [137, 172]], '#000'],
    [[[71, 179], [139, 179]], GREEN], [[[80, 190], [143, 190]], GREEN],
    [[[70, 201], [112, 201]], BLUE], [[[130, 201], [161, 172]], BLUE],
    [[[81, 213], [135, 213], [160, 190]], BLUE],
    [[[96, 224], [145, 224], [147, 220]], RED],
    [[[52, 263], [130, 263], [137, 261]], '#000'],
    [[[112, 334], [118, 334]], RED], [[[129, 336], [136, 322], [138, 316]], RED],
    [[[105, 348], [128, 348], [144, 340]], RED],
    [[[92, 368], [134, 368], [140, 372]], DARKBLUE],
    [[[86, 410], [136, 410], [140, 413]], DARKBLUE],
    [[[100, 429], [127, 429], [180, 448]], BROWN],
    [[[57, 468], [130, 468], [190, 456]], '#000'],
    [[[57, 480], [143, 480]], '#444'],
    [[[57, 490], [133, 490], [143, 500]], '#999'],
    [[[57, 500], [135, 500], [143, 505]], '#ddd'],
    [[[57, 509], [135, 509]], '#87cefa'], [[[57, 511], [135, 511]], '#87cefa'],
    [[[67, 527], [129, 527], [173, 465]], ORANGE],
    [[[54, 555], [186, 555]], '#87cefa'], [[[54, 557], [186, 557]], '#87cefa'],
    [[[50, 570], [185, 570]], '#999'],
    [[[40, 582], [123, 582]], '#444'], [[[130, 582], [140, 582]], '#444'],
    [[[74, 594], [145, 594]], '#000'],
    [[[30, 605], [215, 605], [219, 600]], '#ffaa00'],
    [[[140, 623], [148, 623], [157, 610]], '#000']
];
leaders.forEach(function(l) { leader(l[0], l[1]); });

// ---- banner, drawn as plain elements ----
function box(x, y, w, h, fill, r, z) {
    g.push({ type: 'rect', z: z || 21, silent: true, shape: { x: x, y: y, width: w, height: h, r: r || 0 }, style: { fill: fill } });
}
box(280, 0, 630, 120, new echarts.graphic.LinearGradient(0, 0, 1, 0, [
    { offset: 0, color: '#0e4fa0' }, { offset: 0.4, color: '#1456a6' }, { offset: 0.55, color: '#3a72b8' },
    { offset: 0.75, color: '#2d68b0' }, { offset: 1, color: '#1258a5' }
]), 0, 20);
box(593, 6, 51, 114, '#1a1a1c', [7, 7, 0, 0]);
box(596, 9, 45, 111, '#122038', [5, 5, 0, 0]);
box(650, 22, 50, 98, '#1a1a1c', [7, 7, 0, 0]);
box(653, 25, 44, 95, '#6c6c5c', [5, 5, 0, 0]);
box(622, 46, 52, 74, '#1c1c1c', [7, 7, 0, 0]);
box(625, 50, 46, 70, '#f4f4f4', [4, 4, 0, 0]);
box(627, 56, 42, 8, '#3a3a3a', 1);
box(629, 75, 38, 9, '#7cc0e8', 0);
box(629, 84, 38, 26, '#ffffff', 0);
box(629, 112, 38, 8, '#c8d84a', 0);
label('23°', 618, 42, '#fff', 9, 'center');
var BANNER_FONT = '"Open Sans", sans-serif';
g.push({ type: 'text', z: 22, silent: true, x: 312, y: 33, style: { text: 'Oficjalna aplikacja', fill: '#fff', font: '19px ' + BANNER_FONT, verticalAlign: 'middle' } });
g.push({ type: 'text', z: 22, silent: true, x: 312, y: 61, style: { rich: { b: { fill: '#fff', font: 'bold 19px ' + BANNER_FONT }, n: { fill: '#fff', font: '19px ' + BANNER_FONT } }, text: '{b|Meteo ICM} {n|do pobrania}', verticalAlign: 'middle' } });
g.push({ type: 'text', z: 22, silent: true, x: 312, y: 90, style: { text: 'w Google Play i App Store', fill: '#fff', font: '19px ' + BANNER_FONT, verticalAlign: 'middle' } });
g.push({ type: 'text', z: 22, silent: true, x: 764, y: 85, style: { text: 'icmmeteo', fill: '#fff', font: 'bold 18.5px ' + FONT, verticalAlign: 'middle' } });
g.push({ type: 'bezierCurve', z: 22, silent: true, shape: { x1: 773, y1: 68, cpx1: 755, cpy1: 72, x2: 752, y2: 98 }, style: { stroke: '#fff', lineWidth: 1.5, fill: null } });
box(860, 73, 25, 25, '#fff', 1);
g.push({ type: 'text', z: 22, silent: true, x: 872.5, y: 86, style: { text: 'M°', fill: '#1258a5', font: 'bold 15px ' + FONT, verticalAlign: 'middle', align: 'center' } });

var myChart = echarts.init(document.getElementById('chartMain'), null, { renderer: 'canvas' });
myChart.setOption(option, true);
</script>
</body>
</html>
